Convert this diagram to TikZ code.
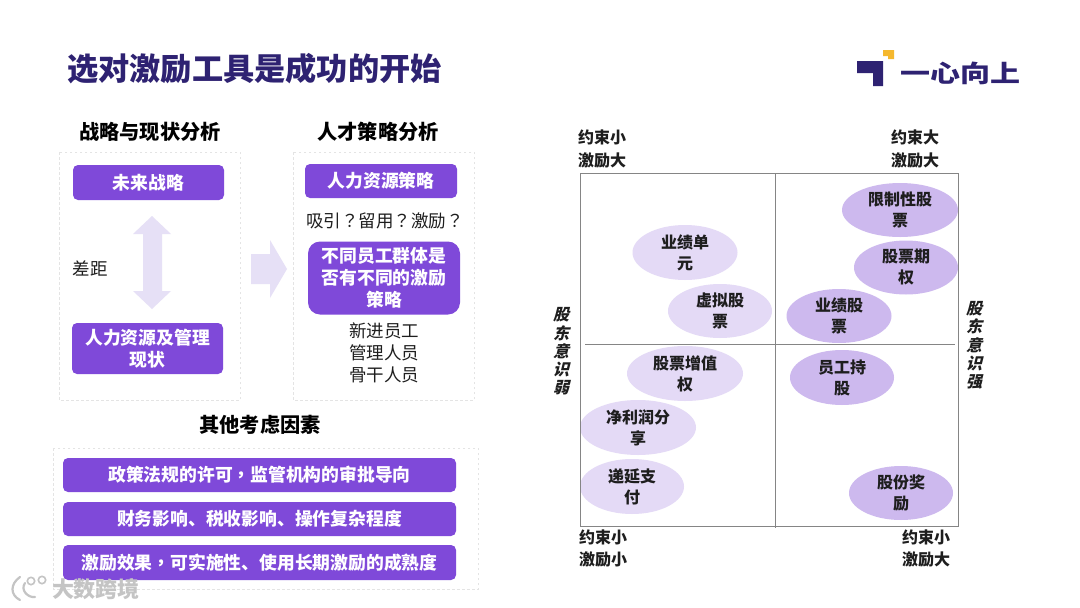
\documentclass[tikz,border=0pt]{standalone}
\usepackage{fontspec}
\setmainfont{Noto Sans CJK SC}
\newfontfamily\slantcjk[BoldFeatures={FakeSlant=0.25},FakeSlant=0.25]{Noto Sans CJK SC}
\newfontfamily\tcpunct{Noto Sans CJK TC}
\newcommand{\wq}{{\tcpunct ？}}
\newcommand{\wc}{{\tcpunct ，}}
\usetikzlibrary{shapes.geometric}
\definecolor{boxpurple}{HTML}{7F49D9}
\definecolor{titleink}{HTML}{2E2272}
\definecolor{logoyellow}{HTML}{F5B82E}
\definecolor{paleflow}{HTML}{E6E0F6}
\definecolor{elllight}{HTML}{E4DAF6}
\definecolor{elldark}{HTML}{CDB9EE}
\definecolor{dashgray}{HTML}{E4E4E4}
\definecolor{framegray}{HTML}{858585}
\definecolor{inkdark}{HTML}{1E1E1E}
\definecolor{markgray}{HTML}{C4C4C4}
\tikzset{
  purplebox/.style={fill=boxpurple,rounded corners=5pt,text=white,align=center,inner sep=0pt,
    font=\fontsize{17.8}{22}\selectfont\bfseries},
  headtext/.style={inner sep=0pt,font=\fontsize{20.2}{24}\selectfont\bfseries,text=black},
  plaintext/.style={inner sep=0pt,align=center,text=inkdark,font=\fontsize{17.5}{22}\selectfont},
  dashpanel/.style={draw=dashgray,line width=0.6pt,dash pattern=on 2.5pt off 2.5pt},
  tool/.style={ellipse,inner sep=0pt,align=center,text=inkdark,font=\fontsize{16}{21}\selectfont\bfseries},
  toollight/.style={tool,fill=elllight},
  tooldark/.style={tool,fill=elldark},
  corner/.style={inner sep=0pt,align=center,text=inkdark,font=\fontsize{16}{22.5}\selectfont\bfseries},
  sidetext/.style={inner sep=0pt,align=center,text=inkdark,font=\fontsize{16}{18.3}\selectfont\slantcjk\bfseries},
  axisline/.style={draw=framegray,line width=0.8pt}
}
\begin{document}
\begin{tikzpicture}[x=1pt,y=-1pt]
\useasboundingbox (0,0) rectangle (1080,608);
\fill[white] (0,0) rectangle (1080,608);
% title
\node[inner sep=0pt,text=titleink,font=\fontsize{31.2}{36}\selectfont\bfseries] (title) at (254.5,69) {选对激励工具是成功的开始};
% logo
\fill[titleink] (857,61) -- (883,61) -- (883,86) -- (873,86) -- (873,73) -- (857,73) -- cycle;
\fill[logoyellow] (883,50) -- (894,50) -- (894,59) -- (888,59) -- (888,56) -- (883,56) -- cycle;
\node[inner sep=0pt,text=titleink,yscale=0.8,font=\fontsize{30}{30}\selectfont\bfseries] (logotext) at (960,73) {一心向上};
% panels
\draw[dashpanel] (59,152) rectangle (240,400);
\draw[dashpanel] (293,152) rectangle (474,400);
\draw[dashpanel] (53,448) rectangle (478,589);
% headings
\node[headtext] (h1) at (150,132) {战略与现状分析};
\node[headtext] (h2) at (378,132) {人才策略分析};
\node[headtext] (h3) at (260,425) {其他考虑因素};
% left panel
\node[purplebox,minimum width=151pt,minimum height=35pt] (future) at (148.5,182.5) {\raisebox{-0.7pt}{未来战略}};
\node[purplebox,minimum width=151pt,minimum height=51pt] (current) at (147.5,348.5) {人力资源及管理\\现状};
\node[plaintext] (gap) at (90,268) {差距};
\fill[paleflow] (152,216) -- (171,234) -- (162,234) -- (162,291) -- (171,291) -- (152,309) -- (133,291) -- (143,291) -- (143,234) -- (133,234) -- cycle;
\fill[paleflow] (251,254) -- (270,254) -- (270,240) -- (287,269) -- (270,298) -- (270,284) -- (251,284) -- cycle;
% right panel
\node[purplebox,minimum width=152pt,minimum height=34pt] (hr) at (381,181) {\raisebox{-1.7pt}{人力资源策略}};
\node[plaintext] (ask) at (385,221) {吸引\wq 留用\wq 激励\wq};
\node[purplebox,rounded corners=12pt,minimum width=152pt,minimum height=73pt] (groups) at (384,278) {不同员工群体是\\否有不同的激励\\策略};
\node[plaintext] (staff) at (384,353) {新进员工\\管理人员\\骨干人员};
% bars
\node[purplebox,minimum width=393pt,minimum height=34pt] (b1) at (259.5,475) {\raisebox{-0.8pt}{政策法规的许可\wc 监管机构的审批导向}};
\node[purplebox,minimum width=393pt,minimum height=34pt] (b2) at (259.5,519) {\raisebox{-0.8pt}{财务影响、税收影响、操作复杂程度}};
\node[purplebox,minimum width=393pt,minimum height=35pt] (b3) at (259.5,562.5) {激励效果\wc 可实施性、使用长期激励的成熟度};
% watermark
\draw[markgray,line width=2.2pt,line cap=round] (20,577) .. controls (10,584) and (10,595) .. (20,600);
\draw[markgray,line width=2.2pt,line cap=round] (25,583) .. controls (20,590) and (28,598) .. (35,597);
\draw[markgray,line width=1.6pt] (31,581) circle (3.7);
\draw[markgray,line width=1.6pt] (42,580) circle (3.7);
\node[inner sep=0pt,text=markgray,font=\fontsize{22}{22}\selectfont\bfseries] (mark) at (96,589) {大数跨境};
% matrix ellipses
\node[tooldark,minimum width=116pt,minimum height=54pt] (e1) at (900,210) {限制性股\\票};
\node[tooldark,minimum width=104pt,minimum height=54pt] (e2) at (906,267.5) {股票期\\权};
\node[toollight,minimum width=105pt,minimum height=55pt] (e3) at (685,252.5) {业绩单\\元};
\node[toollight,minimum width=104pt,minimum height=54pt] (e4) at (720,311) {虚拟股\\票};
\node[tooldark,minimum width=105pt,minimum height=54pt] (e5) at (839,316) {业绩股\\票};
\node[toollight,minimum width=116pt,minimum height=55pt] (e6) at (685,373.5) {股票增值\\权};
\node[tooldark,minimum width=104pt,minimum height=55pt] (e7) at (842,377.5) {员工持\\股};
\node[toollight,minimum width=116pt,minimum height=55pt] (e8) at (638,427.5) {净利润分\\享};
\node[toollight,minimum width=104pt,minimum height=55pt] (e9) at (632,486.5) {递延支\\付};
\node[tooldark,minimum width=104pt,minimum height=54pt] (e10) at (901,493) {股份奖\\励};
% matrix frame
\draw[axisline] (580,173) rectangle (958.5,526);
\draw[axisline] (775.5,173) -- (775.5,528);
\draw[axisline] (585,344) -- (955,344);
% corner labels
\node[corner] (c1) at (602,149) {约束小\\激励大};
\node[corner] (c2) at (915,149) {约束大\\激励大};
\node[corner] (c3) at (603,548.5) {约束小\\激励小};
\node[corner] (c4) at (926,548.5) {约束小\\激励大};
\node[sidetext] (s1) at (561,351.5) {股\\东\\意\\识\\弱};
\node[sidetext] (s2) at (974,345.5) {股\\东\\意\\识\\强};
\end{tikzpicture}
\end{document}
